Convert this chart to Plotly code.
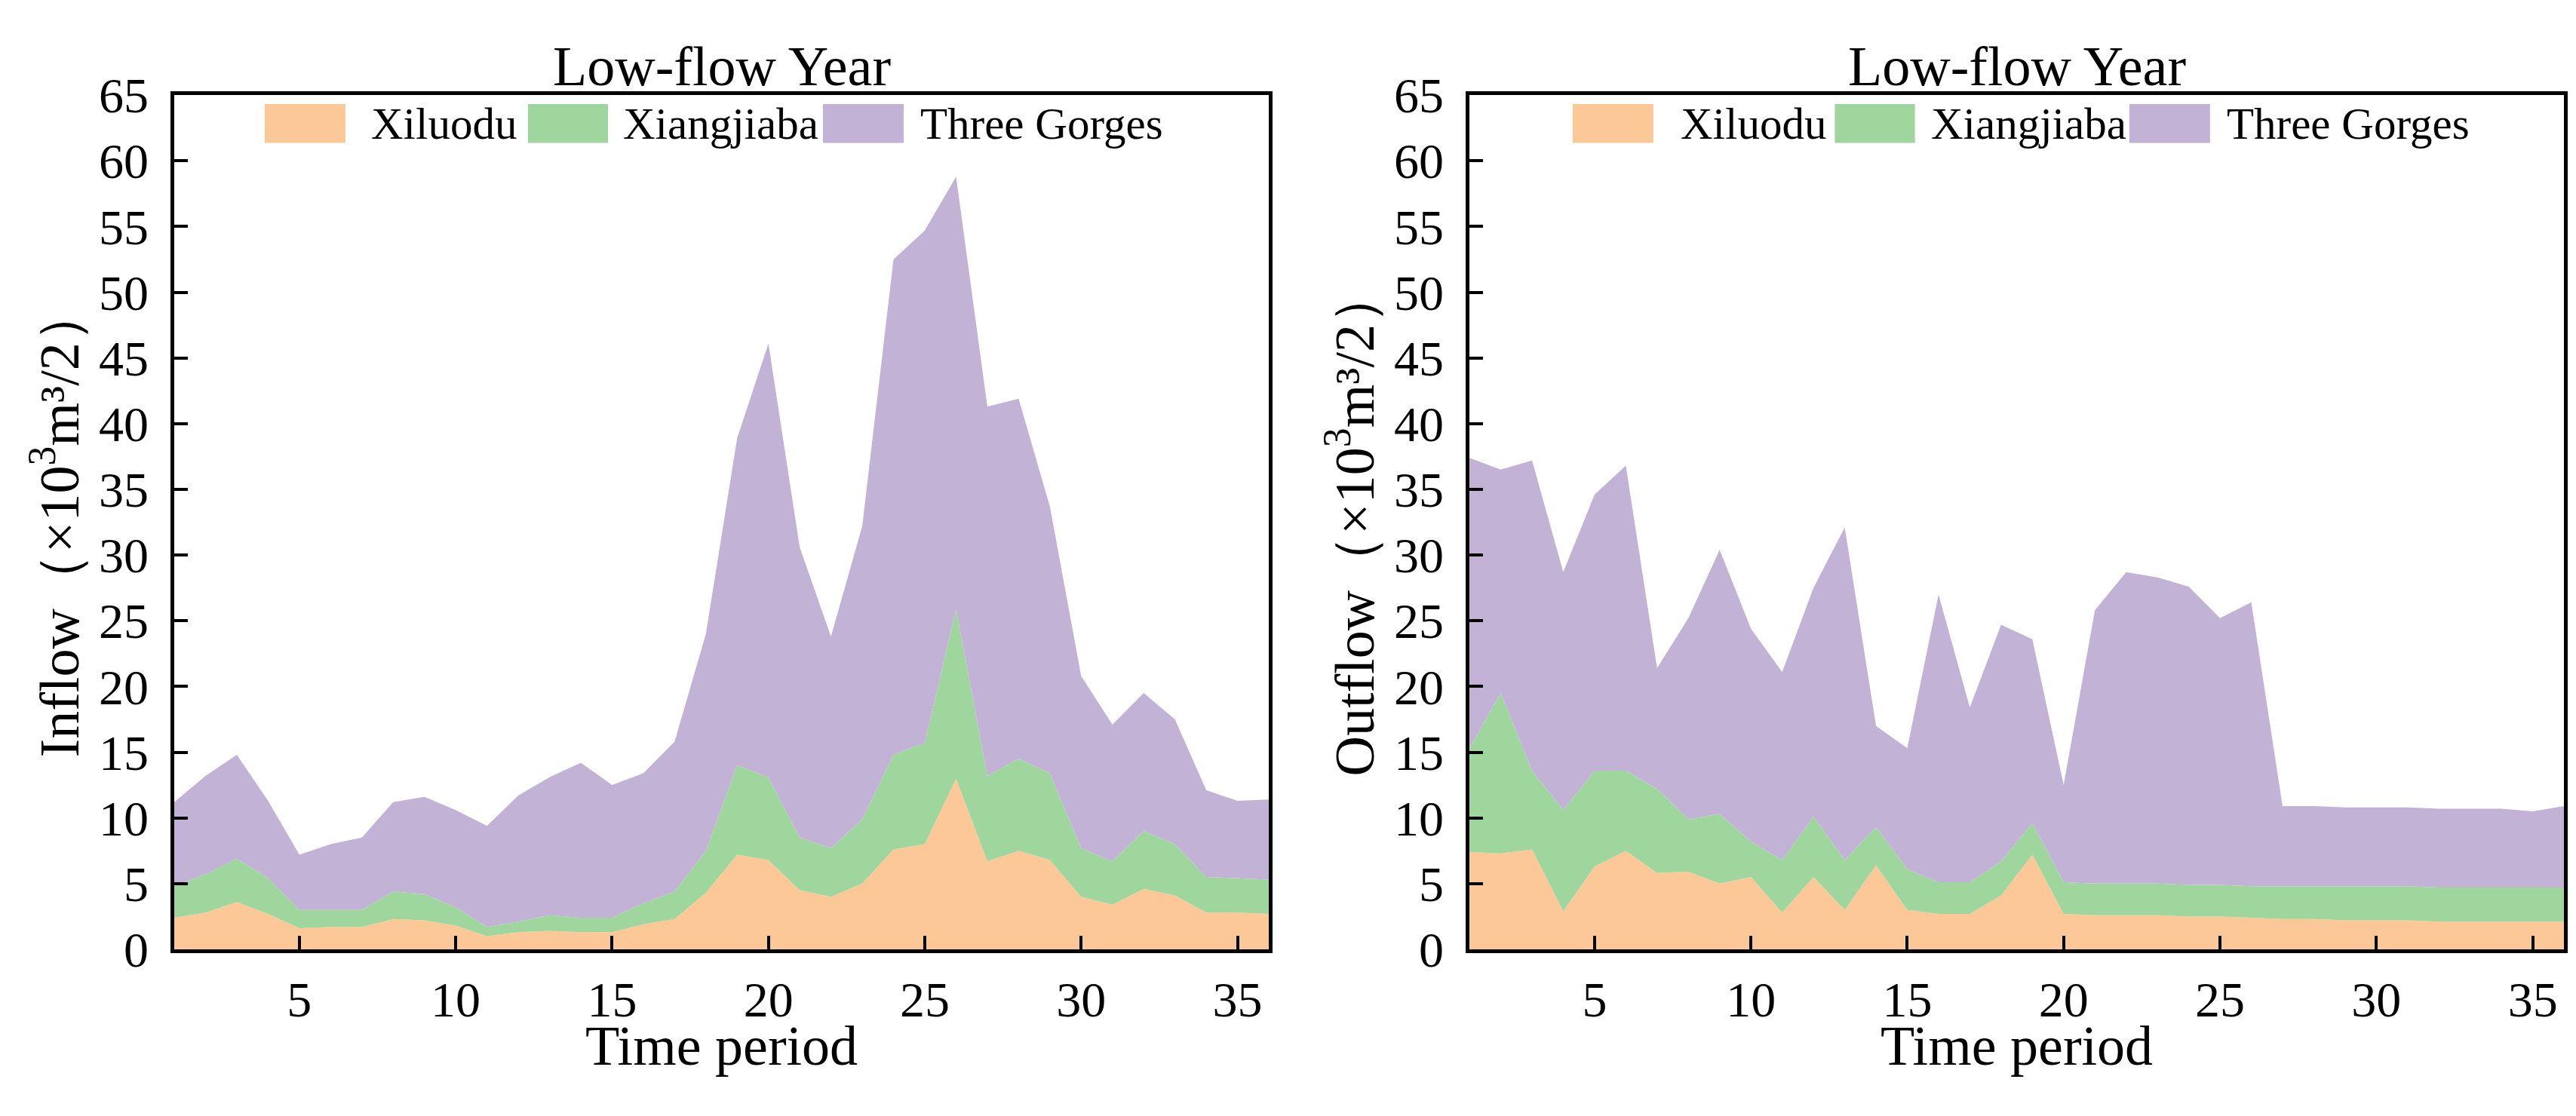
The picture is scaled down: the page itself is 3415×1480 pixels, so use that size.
import plotly.graph_objects as go

periods = list(range(1, 37))
series_names = ["Xiluodu", "Xiangjiaba", "Three Gorges"]
colors = ["#FCC897", "#9ED69D", "#C2B2D6"]

inflow_xiluodu = [2.4, 2.8, 3.6, 2.7, 1.6, 1.7, 1.7, 2.3, 2.2, 1.8, 1.0, 1.3, 1.4, 1.3, 1.3, 1.9, 2.3, 4.3,
                  7.2, 6.8, 4.5, 4.0, 5.0, 7.6, 8.0, 13.0, 6.7, 7.5, 6.8, 4.0, 3.4, 4.6, 4.1, 2.8, 2.8, 2.7]
inflow_xiangjiaba = [2.4, 2.9, 3.3, 2.7, 1.4, 1.3, 1.3, 2.1, 2.0, 1.4, 0.7, 0.8, 1.2, 1.1, 1.1, 1.6, 2.1, 3.2,
                     6.8, 6.3, 4.0, 3.7, 4.9, 7.2, 7.7, 12.9, 6.5, 7.0, 6.6, 3.7, 3.3, 4.4, 3.9, 2.7, 2.6, 2.6]
inflow_three_gorges = [6.4, 7.5, 7.9, 5.9, 4.2, 5.0, 5.5, 6.8, 7.4, 7.4, 7.7, 9.6, 10.5, 11.8, 10.1, 9.9, 11.4, 16.5,
                       24.9, 33.0, 22.1, 16.1, 22.3, 37.7, 39.0, 32.9, 28.1, 27.4, 20.3, 13.1, 10.4, 10.5, 9.5, 6.6, 5.9, 6.1]

outflow_xiluodu = [7.4, 7.3, 7.6, 2.9, 6.3, 7.5, 5.8, 5.9, 5.0, 5.5, 2.8, 5.5, 3.0, 6.4, 3.0, 2.7, 2.7, 4.1,
                   7.2, 2.7, 2.6, 2.6, 2.6, 2.5, 2.5, 2.4, 2.3, 2.3, 2.2, 2.2, 2.2, 2.1, 2.1, 2.1, 2.1, 2.1]
outflow_xiangjiaba = [7.9, 12.2, 6.0, 7.7, 7.3, 6.1, 6.4, 4.0, 5.3, 2.7, 4.0, 4.6, 3.8, 2.9, 3.1, 2.4, 2.4, 2.6,
                      2.4, 2.4, 2.4, 2.4, 2.4, 2.4, 2.4, 2.4, 2.5, 2.5, 2.6, 2.6, 2.6, 2.6, 2.6, 2.6, 2.6, 2.6]
outflow_three_gorges = [22.1, 17.0, 23.6, 18.1, 21.0, 23.2, 9.2, 15.3, 20.1, 16.2, 14.3, 17.4, 25.3, 7.7, 9.2, 21.9, 13.3, 18.0,
                        14.0, 7.4, 20.8, 23.7, 23.3, 22.7, 20.3, 21.6, 6.1, 6.1, 6.0, 6.0, 6.0, 6.0, 6.0, 6.0, 5.8, 6.2]

x_ticks = [5, 10, 15, 20, 25, 30, 35]
chart_title = "Low-flow Year"
x_title = "Time period"
y_titles = ["Inflow（×10<sup>3</sup>m³/2）", "Outflow（×10<sup>3</sup>m³/2）"]

FONT = "Liberation Serif, Times New Roman, serif"

fig = go.Figure()

panels = [
    ("x", "y", "in", [inflow_xiluodu, inflow_xiangjiaba, inflow_three_gorges]),
    ("x2", "y2", "out", [outflow_xiluodu, outflow_xiangjiaba, outflow_three_gorges]),
]
for xa, ya, grp, vals in panels:
    for name, color, v in zip(series_names, colors, vals):
        fig.add_trace(go.Scatter(
            x=periods, y=v, name=name, stackgroup=grp, mode="none",
            fillcolor=color, xaxis=xa, yaxis=ya, showlegend=False,
        ))

axis_common = dict(
    showline=True, linewidth=4.5, linecolor="black", mirror=True,
    ticks="inside", ticklen=18, tickwidth=4, tickcolor="black",
    showgrid=False, zeroline=False,
    tickfont=dict(family=FONT, size=66, color="black"),
)
x_axis_common = dict(range=[1, 36], tickvals=x_ticks, ticklabelstandoff=5, **axis_common)
y_axis_common = dict(range=[0, 65], tick0=0, dtick=5, ticklabelstandoff=16, **axis_common)

x_domains = [[0.0653, 0.4902], [0.5681, 0.9930]]
y_domain = [0.1365, 0.9416]

fig.update_layout(
    width=3415, height=1480,
    margin=dict(l=0, r=0, t=0, b=0),
    paper_bgcolor="white", plot_bgcolor="white",
    font=dict(family=FONT, color="black"),
    xaxis=dict(domain=x_domains[0], anchor="y", **x_axis_common),
    yaxis=dict(domain=y_domain, anchor="x", **y_axis_common),
    xaxis2=dict(domain=x_domains[1], anchor="y2", **x_axis_common),
    yaxis2=dict(domain=y_domain, anchor="x2", **y_axis_common),
)

# legend (drawn manually to match the large swatches)
legend_pos = [
    ([(0.0827, 0.1564), (0.3232, 0.3963), (0.5927, 0.6664)], [0.1785, 0.4087, 0.680]),
    ([(0.0943, 0.1680), (0.3338, 0.4070), (0.6029, 0.6766)], [0.1913, 0.4205, 0.6903]),
]
y_title_x = [0.0193, 0.5221]
for i, (xa, ya) in enumerate([("x", "y"), ("x2", "y2")]):
    swatches, text_x = legend_pos[i]
    for (x0, x1), tx, name, color in zip(swatches, text_x, series_names, colors):
        fig.add_shape(type="rect", xref=f"{xa} domain", yref=f"{ya} domain",
                      x0=x0, x1=x1, y0=0.9442, y1=0.9895,
                      fillcolor=color, line=dict(width=0))
        fig.add_annotation(xref=f"{xa} domain", yref=f"{ya} domain", x=tx, y=0.9668,
                           text=name, showarrow=False, xanchor="left", yanchor="middle",
                           font=dict(family=FONT, size=59, color="black"))
    fig.add_annotation(xref=f"{xa} domain", yref="paper", x=0.5, y=0.969,
                       text=chart_title, showarrow=False, xanchor="center", yanchor="middle",
                       font=dict(family=FONT, size=74, color="black"))
    fig.add_annotation(xref=f"{xa} domain", yref="paper", x=0.5, y=0.0455,
                       text=x_title, showarrow=False, xanchor="center", yanchor="middle",
                       font=dict(family=FONT, size=74, color="black"))
    fig.add_annotation(xref="paper", yref=f"{ya} domain", x=y_title_x[i], y=0.5,
                       text=y_titles[i], showarrow=False, textangle=-90,
                       xanchor="center", yanchor="middle",
                       font=dict(family=FONT, size=74, color="black"))

fig.write_html("out.html")
